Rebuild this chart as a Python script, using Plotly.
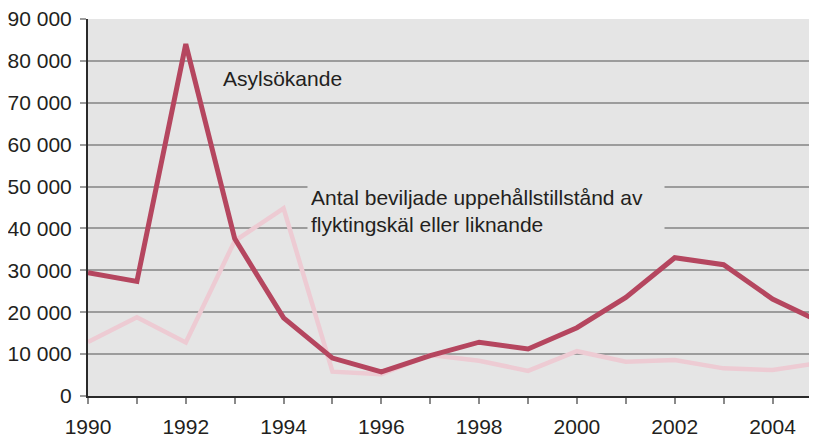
import plotly.graph_objects as go

years = list(range(1990, 2006))
asylsokande = [29420, 27351, 84018, 37581, 18640, 9047, 5753, 9662, 12844, 11231,
               16303, 23515, 33016, 31355, 23161, 17530]
beviljade = [12900, 18800, 12800, 37000, 44800, 5800, 5200, 9800, 8400, 6000,
             10700, 8200, 8600, 6600, 6200, 8000]
y_ticks = [0, 10000, 20000, 30000, 40000, 50000, 60000, 70000, 80000, 90000]
y_tick_labels = ["0", "10 000", "20 000", "30 000", "40 000", "50 000",
                 "60 000", "70 000", "80 000", "90 000"]
x_tick_labels = [str(y) if y % 2 == 0 else "" for y in years]

DARK = "#b5465f"
LIGHT = "#edcbd3"
BG = "#e5e5e5"
GRID = "#9c9c9c"
TXT = "#231f20"
FONT = "Liberation Sans, Arial, sans-serif"

fig = go.Figure()
fig.add_trace(go.Scatter(x=years, y=beviljade, mode="lines",
                         line=dict(color=LIGHT, width=4.5), hoverinfo="skip"))
fig.add_trace(go.Scatter(x=years, y=asylsokande, mode="lines",
                         line=dict(color=DARK, width=5), hoverinfo="skip"))

# page body has an 8px margin, so the figure is offset by 8px
fig.update_layout(
    width=809, height=428,
    margin=dict(l=80, r=0, t=11, b=40, autoexpand=False),
    paper_bgcolor="white", plot_bgcolor=BG,
    showlegend=False,
    font=dict(family=FONT, size=21, color=TXT),
    xaxis=dict(range=[1990, 2004.91], tickmode="array", tickvals=years,
               ticktext=x_tick_labels, ticks="outside", ticklen=6, tickwidth=1.5,
               tickcolor="#8a8a8a", showgrid=False, zeroline=False,
               showline=True, linecolor="#2a2a2a", linewidth=2,
               ticklabelstandoff=5, automargin=False, ticklabeloverflow="allow"),
    yaxis=dict(range=[0, 90000], tickmode="array", tickvals=y_ticks,
               ticktext=y_tick_labels, ticks="outside", ticklen=6, tickwidth=1.5,
               tickcolor=GRID, showgrid=True, gridcolor=GRID, gridwidth=1.5,
               zeroline=False, showline=True, linecolor="#2a2a2a", linewidth=2,
               ticklabelstandoff=4, automargin=False, ticklabeloverflow="allow"),
    annotations=[
        dict(x=1992.73, y=75700, xref="x", yref="y", text="Asylsökande",
             showarrow=False, xanchor="left", yanchor="middle",
             font=dict(size=21, color=TXT, family=FONT)),
        dict(x=1994.48, y=44150, xref="x", yref="y",
             text="Antal beviljade uppehållstillstånd av<br>flyktingskäl eller liknande",
             showarrow=False, xanchor="left", yanchor="middle", align="left",
             width=350, borderpad=3, bgcolor=BG,
             font=dict(size=21, color=TXT, family=FONT)),
    ],
)

fig.write_html("out.html")
